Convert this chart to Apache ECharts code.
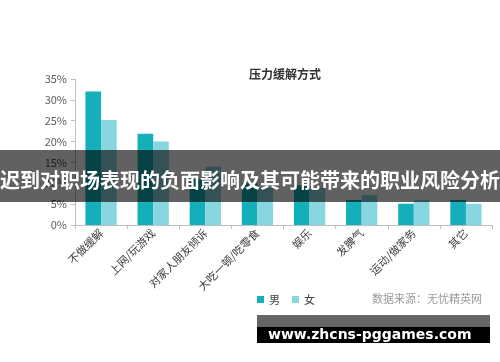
<!DOCTYPE html>
<html>
<head>
<meta charset="utf-8">
<script src="https://cdn.jsdelivr.net/npm/echarts@6/dist/echarts.min.js"></script>
<style>
html,body{margin:0;padding:0;background:#fff;}
#c{width:500px;height:362px;}
</style>
</head>
<body>
<div id="c"></div>
<script>
const categories = ['不做缓解','上网/玩游戏','对家人朋友倾诉','大吃一顿/吃零食','娱乐','发脾气','运动/做家务','其它'];
const male = [32.0, 21.9, 11.0, 10.0, 9.5, 6.0, 5.1, 6.0];
const female = [25.2, 20.0, 14.0, 9.0, 9.0, 7.2, 6.0, 5.1];
const seriesNames = ['男','女'];
const chartTitle = '压力缓解方式';
const sourceText = '数据来源：无忧精英网';
const bannerText = '迟到对职场表现的负面影响及其可能带来的职业风险分析';
const watermarkText = 'www.zhcns-pggames.com';

const font = '"Noto Sans CJK SC", "Microsoft YaHei", sans-serif';
const chart = echarts.init(document.getElementById('c'));
chart.setOption({
  animation: false,
  textStyle: {fontFamily: font},
  title: {
    text: chartTitle, left: 280, top: 63, textAlign: 'center',
    textStyle: {fontSize: 12, fontWeight: 'bold', color: '#333', fontFamily: font}
  },
  legend: {
    data: seriesNames, left: 252, top: 289, icon: 'rect', itemWidth: 7, itemHeight: 7, itemGap: 12,
    textStyle: {fontSize: 11, color: '#404040', fontFamily: font}
  },
  grid: {left: 75, right: 8, top: 79, bottom: 137, containLabel: false},
  xAxis: {
    type: 'category', data: categories,
    axisLine: {lineStyle: {color: '#bfbfbf'}},
    axisTick: {show: true, alignWithLabel: false, length: 4, lineStyle: {color: '#bfbfbf'}},
    axisLabel: {rotate: 45, interval: 0, fontSize: 11, color: '#404040', margin: 6, fontFamily: font}
  },
  yAxis: {
    type: 'value', min: 0, max: 35, interval: 5,
    axisLine: {show: true, lineStyle: {color: '#bfbfbf'}},
    axisTick: {show: true, length: 4, lineStyle: {color: '#bfbfbf'}},
    splitLine: {show: false},
    axisLabel: {formatter: '{value}%', fontSize: 11, color: '#595959', margin: 8, fontFamily: font}
  },
  series: [
    {name: seriesNames[0], type: 'bar', data: male, barGap: '0%', barCategoryGap: '40%', itemStyle: {color: '#14afbb'}},
    {name: seriesNames[1], type: 'bar', data: female, barGap: '0%', barCategoryGap: '40%', itemStyle: {color: '#88d6df'}}
  ],
  graphic: [
    {type: 'text', left: 372, top: 293, z: 50,
     style: {text: sourceText, fontSize: 11, fill: '#9a9a9a', fontFamily: font}},
    {type: 'rect', left: 0, top: 150, z: 100, shape: {width: 500, height: 52},
     style: {fill: 'rgba(0,0,0,0.62)'}},
    {type: 'text', left: 0, top: 170, z: 101,
     style: {text: bannerText, fontSize: 20, fontWeight: 'bold', fill: '#fff', fontFamily: font}},
    {type: 'rect', left: 257, top: 315, z: 100, shape: {width: 233, height: 12},
     style: {fill: '#666'}},
    {type: 'rect', left: 257, top: 327, z: 100, shape: {width: 233, height: 16},
     style: {fill: '#000'}},
    {type: 'text', left: 268, top: 328, z: 101,
     style: {text: watermarkText, fontSize: 14, fontWeight: 'bold', fill: '#fff', fontFamily: '"DejaVu Sans", sans-serif'}}
  ]
});
</script>
</body>
</html>
